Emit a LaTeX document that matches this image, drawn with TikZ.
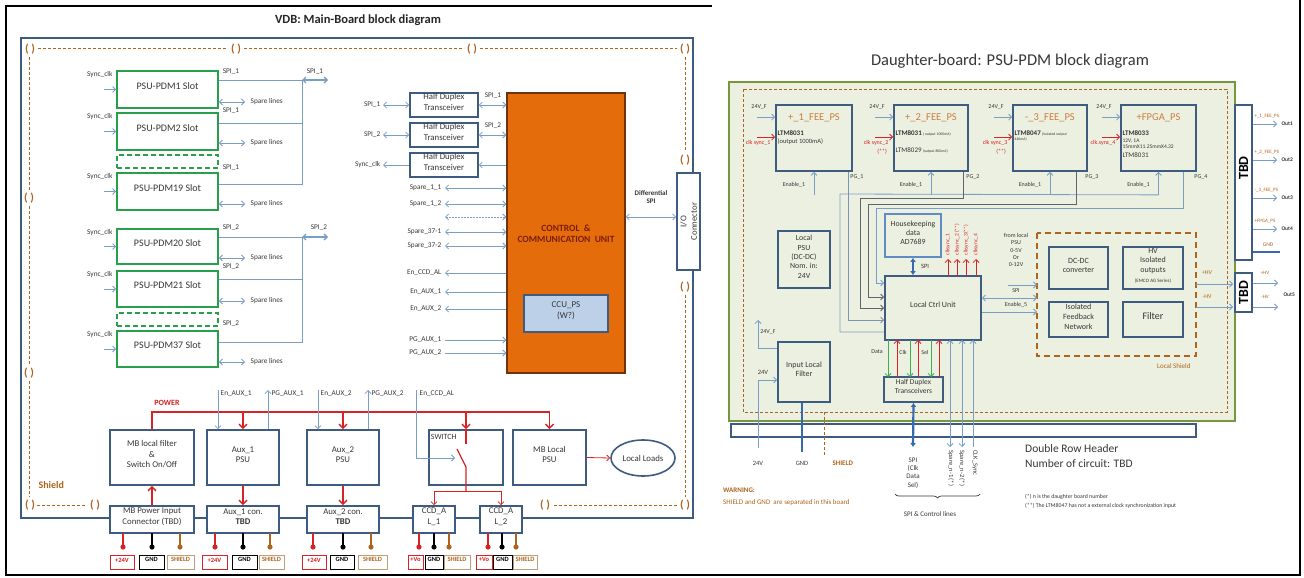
\documentclass[tikz,border=0pt]{standalone}
\usepackage{fontspec}
\setmainfont{Carlito}
\usetikzlibrary{arrows.meta,fit,shapes.geometric,decorations.pathreplacing}
\newcommand\fs[1]{\fontsize{#1}{\the\dimexpr #1pt*6/5\relax}\selectfont}
\definecolor{sb}{RGB}{62,92,128}
\definecolor{lb}{RGB}{120,158,198}
\definecolor{gr}{RGB}{40,160,75}
\definecolor{br}{RGB}{175,100,30}
\definecolor{rd}{RGB}{215,35,35}
\definecolor{orng}{RGB}{228,108,10}
\definecolor{orngd}{RGB}{110,50,15}
\definecolor{ccub}{RGB}{188,208,232}
\definecolor{ccut}{RGB}{125,30,10}
\definecolor{bgb}{RGB}{236,240,224}
\definecolor{olv}{RGB}{120,150,60}
\definecolor{ttl}{RGB}{205,125,60}
\definecolor{txt}{RGB}{55,55,55}
\definecolor{hk}{RGB}{95,140,195}
\definecolor{tk}{RGB}{55,105,175}
\definecolor{gd}{RGB}{60,175,80}
\definecolor{pgl}{RGB}{95,100,110}
\definecolor{tanb}{RGB}{190,160,120}
\tikzset{
 arr/.style={draw=lb, line width=0.8pt, -{Straight Barb[length=3pt,width=6pt]}},
 darr/.style={draw=lb, line width=0.8pt, {Straight Barb[length=3pt,width=6pt]}-{Straight Barb[length=3pt,width=6pt]}},
 la/.style={draw=lb, line width=0.8pt},
 rarr/.style={draw=rd, line width=1.4pt, -{Straight Barb[length=4pt,width=8pt]}},
 rtarr/.style={draw=rd, line width=0.8pt, -{Straight Barb[length=3pt,width=6pt]}},
 garr/.style={draw=gd, line width=0.8pt, -{Straight Barb[length=3pt,width=6pt]}},
 pgarr/.style={draw=pgl, line width=0.8pt, -{Straight Barb[length=3pt,width=6pt]}},
 box/.style={draw=sb, line width=1.6pt, fill=white, inner sep=0pt, align=center, font=\fs{8.8}, text=txt},
 rbox/.style={draw=sb, line width=1.8pt, fill=bgb, inner sep=0pt, align=center, font=\fs{8}, text=txt},
 slot/.style={draw=gr, line width=1.8pt, fill=white, inner sep=0pt, font=\fs{10}, text=txt},
 lbl/.style={font=\fs{7.3}, inner sep=0.5pt, text=txt},
 sl/.style={font=\fs{6}, inner sep=0.3pt, text=txt},
 mk/.style={font=\bfseries\fs{11.5}, text=br, inner sep=0pt},
 shd/.style={draw=br, line width=1pt, dash pattern=on 3pt off 2pt},
 pinl/.style={line width=0.8pt, fill=white, inner sep=0pt, font=\bfseries\fs{6.5}},
}
\begin{document}
\begin{tikzpicture}[x=1pt,y=-1pt]
\useasboundingbox (0,0) rectangle (1304,578);
\fill[white] (0,0) rectangle (1304,578);
\draw[black, line width=2.5pt] (712,6) -- (6,6) -- (6,575) -- (1300,575) -- (1300,0);

%================ LEFT PANEL ================
\node[font=\bfseries\fs{12.5}, text=black!85] (t1) at (358,20) {VDB: Main-Board block diagram};
\draw[sb, line width=1.6pt] (21,38) rectangle (693,518);
\draw[shd] (38,49) -- (228,49) (244,49) -- (464,49) (480,49) -- (677,49);
\draw[shd] (685,57) -- (685,152) (685,295) -- (685,497) (677,505) -- (553,505);
\draw[shd] (29,57) -- (29,190) (29,206) -- (29,365) (29,381) -- (29,497) (37,505) -- (87,505);
\foreach \x/\y [count=\i] in {30/49,236/49,472/49,685/49,685/160,685/287,685/505,545/505,29/198,29/373,30/505,95/505}
  \node[mk] (mk\i) at (\x,\y) {( )};
\node[font=\bfseries\fs{10}, text=br, anchor=west] (shl) at (35,485) {Shield};

\node[slot, fit={(117,71) (218,108)}] (p1) {PSU-PDM1 Slot};
\node[slot, fit={(117,113) (218,150)}] (p2) {PSU-PDM2 Slot};
\node[slot, dash pattern=on 5pt off 3pt, fit={(117,155) (218,168)}] (pd1) {};
\node[slot, fit={(117,173) (218,210)}] (p19) {PSU-PDM19 Slot};
\node[slot, fit={(117,229) (218,264)}] (p20) {PSU-PDM20 Slot};
\node[slot, fit={(117,271) (218,307)}] (p21) {PSU-PDM21 Slot};
\node[slot, dash pattern=on 5pt off 3pt, fit={(117,313) (218,326)}] (pd2) {};
\node[slot, fit={(117,331) (218,367)}] (p37) {PSU-PDM37 Slot};
\foreach \n in {p1,p2,p19,p20,p21,p37} {
  \draw[arr] ([xshift=-12pt]\n.west) -- (\n.west);
  \node[lbl, anchor=east] (sc\n) at ([xshift=-3pt,yshift=-4pt]\n.north west) {Sync\_clk};
}
\draw[la] (p1.east |- 0,80) -- (302,80) -- (302,184) -- (p19.east |- 0,184);
\draw[la] (p2.east |- 0,123) -- (302,123);
\draw[darr, line width=1.3pt] (302,80) -- (328,80);
\draw[la] (p20.east |- 0,237) -- (302,237) -- (302,342) -- (p37.east |- 0,342);
\draw[la] (p21.east |- 0,279) -- (302,279);
\draw[darr, line width=1.3pt] (302,237) -- (328,237);
\node[lbl] (s1a) at (231,72) {SPI\_1};
\node[lbl] (s1b) at (231,111) {SPI\_1};
\node[lbl] (s1c) at (231,168) {SPI\_1};
\node[lbl] (s1d) at (315,72) {SPI\_1};
\node[lbl] (s2a) at (231,228) {SPI\_2};
\node[lbl] (s2b) at (231,267) {SPI\_2};
\node[lbl] (s2c) at (231,324) {SPI\_2};
\node[lbl] (s2d) at (319,228) {SPI\_2};
\foreach \n/\y in {p1/102,p2/143,p19/204,p20/258,p21/301,p37/362} {
  \draw[darr] (\n.east |- 0,\y) -- (245,\y);
  \node[lbl, anchor=west] (sp\n) at (250,\y) {Spare lines};
}

% transceivers and CCU
\node[box, fit={(410,93) (478,117)}] (hd1) {Half Duplex\\Transceiver};
\node[box, fit={(410,123) (478,147)}] (hd2) {Half Duplex\\Transceiver};
\node[box, fit={(410,153) (478,177)}] (hd3) {Half Duplex\\Transceiver};
\node[draw=orngd, fill=orng, line width=1.5pt, inner sep=0pt, fit={(507,93) (625,373)}] (ccu) {};
\node[font=\bfseries\fs{9.5}, text=ccut, align=center] (ccutx) at (566,234) {CONTROL \ \&\\COMMUNICATION \ UNIT};
\node[draw=sb, fill=ccub, line width=1.5pt, inner sep=0pt, align=center, font=\fs{9}, text=txt, fit={(524,295) (608,332)}] (ccups) {CCU\_PS\\(W?)};
\draw[darr] (383,105) -- (hd1.west);
\node[lbl, anchor=east] (l1a) at (381,105) {SPI\_1};
\draw[darr] (383,135) -- (hd2.west);
\node[lbl, anchor=east] (l1b) at (381,135) {SPI\_2};
\draw[arr] (hd3.west) -- (383,165);
\node[lbl, anchor=east] (l1c) at (381,165) {Sync\_clk};
\draw[darr] (hd1.east) -- (ccu.west |- hd1.east);
\node[lbl] (r1a) at (493,96) {SPI\_1};
\draw[darr] (hd2.east) -- (ccu.west |- hd2.east);
\node[lbl] (r1b) at (493,126) {SPI\_2};
\draw[arr] (ccu.west |- hd3.east) -- (hd3.east);
\foreach \t/\y [count=\i] in {Spare\_1\_1/188, Spare\_1\_2/204, Spare\_37-1/232, Spare\_37-2/246} {
  \draw[darr] (445,\y) -- (ccu.west |- 0,\y);
  \node[lbl, anchor=east] (spa\i) at (442,\y) {\t};
}
\draw[darr, dash pattern=on 2pt off 1pt] (445,217) -- (ccu.west |- 0,217);
\foreach \t/\y [count=\i] in {En\_CCD\_AL/273, En\_AUX\_1/292, En\_AUX\_2/309} {
  \draw[arr] (ccu.west |- 0,\y) -- (445,\y);
  \node[lbl, anchor=east] (ena\i) at (442,\y) {\t};
}
\foreach \t/\y [count=\i] in {PG\_AUX\_1/340, PG\_AUX\_2/353} {
  \draw[arr] (445,\y) -- (ccu.west |- 0,\y);
  \node[lbl, anchor=east] (pga\i) at (442,\y) {\t};
}
\node[font=\bfseries\fs{7}, align=center, text=txt] (dspi) at (651,197) {Differential\\SPI};
\node[box, fit={(677,173) (700,270)}] (io) {};
\node[rotate=90, font=\fs{8.8}, align=center, text=txt] (iot) at (io.center) {I/O\\Connector};
\draw[darr] (ccu.east |- 0,217) -- (io.west |- 0,217);

% power section
\node[font=\bfseries\fs{8}, text=rd] (pw) at (167,403) {POWER};
\node[box, fit={(110,430) (194,485)}] (mbf) {MB local filter\\\&\\Switch On/Off};
\node[box, fit={(207,430) (279,485)}] (aux1) {Aux\_1\\PSU};
\node[box, fit={(307,430) (379,485)}] (aux2) {Aux\_2\\PSU};
\node[box, fit={(429,430) (503,485)}] (sw) {};
\node[lbl, font=\fs{8}, anchor=north west] (swt) at ([xshift=2pt,yshift=-4pt]sw.north west) {SWITCH};
\node[box, fit={(513,430) (586,485)}] (mbl) {MB Local\\PSU};
\node[draw=sb, line width=1.6pt, fill=white, ellipse, minimum width=64pt, minimum height=36pt, inner sep=0pt, font=\fs{8.8}, text=txt] (ll) at (643,458) {Local Loads};
\node[box, fit={(110,506) (194,533)}] (mbc) {MB Power Input\\Connector (TBD)};
\node[box, fit={(207,506) (279,533)}] (a1c) {Aux\_1 con.\\\textbf{TBD}};
\node[box, fit={(307,506) (379,533)}] (a2c) {Aux\_2 con.\\\textbf{TBD}};
\node[box, fit={(413,506) (455,533)}] (l1) {CCD\_A\\L\_1};
\node[box, fit={(480,506) (522,533)}] (l2) {CCD\_A\\L\_2};
\draw[rd, line width=1.4pt] (mbf.north) -- (152,412) -- (549.5,412);
\draw[rarr] (243,412) -- (aux1.north);
\draw[rarr] (343,412) -- (aux2.north);
\draw[rarr] (549.5,412) -- (mbl.north);
\draw[rarr] (466,412) -- (sw.north);
\draw[rd, line width=1.2pt] (sw.north) -- (466,444);
\draw[rd, line width=1.2pt] (457,449) -- (466,467) -- (466,491);
\draw[rtarr] (466,491) -| (l1.north);
\draw[rtarr] (466,491) -| (l2.north);
\draw[rarr] (mbc.north) -- (mbf.south);
\draw[rarr] (aux1.south) -- (a1c.north);
\draw[rarr] (aux2.south) -- (a2c.north);
\draw[rtarr] (mbl.east) -- (ll.west);
\draw[arr] (218,390) -- (aux1.north -| 218,0);
\node[lbl, anchor=west] (t_ea1) at (220,394) {En\_AUX\_1};
\draw[arr] (aux1.north -| 268,0) -- (268,390);
\node[lbl, anchor=west] (t_pa1) at (271,394) {PG\_AUX\_1};
\draw[arr] (318,390) -- (aux2.north -| 318,0);
\node[lbl, anchor=west] (t_ea2) at (320,394) {En\_AUX\_2};
\draw[arr] (aux2.north -| 368,0) -- (368,390);
\node[lbl, anchor=west] (t_pa2) at (371,394) {PG\_AUX\_2};
\draw[arr] (416,390) -- (416,458) -- (455,458);
\node[lbl, anchor=west] (t_ecc) at (419,394) {En\_CCD\_AL};
\foreach \x/\c in {123/rd,152/black,180/br,215/rd,243/black,270/br,313/rd,343/black,371/br,419/rd,434/black,449/br,488/rd,502/black,516/br} {
  \draw[\c, line width=1.3pt] (\x,533) -- (\x,547);
  \fill[\c] (\x,547) circle (2.6);
}
\foreach \a/\b/\t/\c/\d [count=\i] in {110/134/+24V/rd/rd,139/164/GND/black/black,167/194/SHIELD/br/tanb,
  202/227/+24V/rd/rd,232/257/GND/black/black,259/284/SHIELD/br/tanb,
  302/326/+24V/rd/rd,330/354/GND/black/black,358/387/SHIELD/br/tanb,
  408/423/+Vo/rd/rd,425/443/GND/black/black,444/470/SHIELD/br/tanb,
  476/492/+Vo/rd/rd,493/512/GND/black/black,513/537/SHIELD/br/tanb}
  \node[pinl, draw=\d, text=\c, fit={(\a,555) (\b,569)}] (pl\i) {\t};

%================ RIGHT PANEL ================
\node[font=\fs{16.5}, text=txt] (t2) at (1010,61) {Daughter-board: PSU-PDM block diagram};
\draw[olv, fill=bgb, line width=1.8pt] (729,82) rectangle (1235,421);
\node[draw=sb, fill=white, line width=1.5pt, inner sep=0pt, fit={(731,424) (1196,437)}] (hdr) {};
\draw[shd] (743,89) rectangle (1227,412);
\draw[shd] (824,412) -- (824,455);
\node[font=\bfseries\fs{7}, text=br, anchor=west] (shtx) at (829,463) {SHIELD};

\node[rbox, fit={(776,105) (852,171)}] (f1) {};
\node[rbox, fit={(894,105) (968,171)}] (f2) {};
\node[rbox, fit={(1013,105) (1087,171)}] (f3) {};
\node[rbox, fit={(1121,105) (1196,171)}] (f4) {};
\node[font=\fs{10.5}, text=ttl] (f1t) at ([yshift=-14pt]f1.north) {+\_1\_FEE\_PS};
\node[font=\fs{10.5}, text=ttl] (f2t) at ([yshift=-14pt]f2.north) {+\_2\_FEE\_PS};
\node[font=\fs{10.5}, text=ttl] (f3t) at ([yshift=-14pt]f3.north) {-\_3\_FEE\_PS};
\node[font=\fs{10.5}, text=ttl] (f4t) at ([yshift=-14pt]f4.north) {+FPGA\_PS};
\node[sl, anchor=west, font=\bfseries\fs{7}] (f1a) at ([xshift=2pt,yshift=-29pt]f1.north west) {LTM8031};
\node[sl, anchor=west, font=\fs{6.5}] (f1b) at ([xshift=2pt,yshift=-38pt]f1.north west) {(output 1000mA)};
\node[sl, anchor=west] (f2a) at ([xshift=2pt,yshift=-29pt]f2.north west) {{\bfseries\fs{7}LTM8031} {\fs{3.8}( output 1000mA)}};
\node[sl, anchor=west] (f2b) at ([xshift=2pt,yshift=-46pt]f2.north west) {{\fs{7}LTM8029} {\fs{3.8}(output 800mA)}};
\node[sl, anchor=west] (f3a) at ([xshift=2pt,yshift=-29pt]f3.north west) {{\bfseries\fs{7}LTM8047} {\fs{3.8}(isolated output}};
\node[sl, anchor=west, font=\fs{3.8}] (f3b) at ([xshift=2pt,yshift=-35pt]f3.north west) {440mA)};
\node[sl, anchor=west, font=\bfseries\fs{7}] (f4a) at ([xshift=2pt,yshift=-29pt]f4.north west) {LTM8033};
\node[sl, anchor=west, font=\fs{5.5}] (f4b) at ([xshift=2pt,yshift=-37pt]f4.north west) {12V, 1A};
\node[sl, anchor=west, font=\fs{5.5}] (f4c) at ([xshift=2pt,yshift=-43pt]f4.north west) {15mmX11.25mmX4.32};
\node[sl, anchor=west, font=\fs{7}] (f4d) at ([xshift=2pt,yshift=-51pt]f4.north west) {LTM8031};
\foreach \n/\i/\s/\c in {f1/1//clk sync\_1, f2/2/(**)/clk sync\_2, f3/3/(**)/clk sync\_3, f4/4//clk.sync\_4} {
  \draw[arr] ([xshift=-18pt,yshift=-13pt]\n.north west) -- ([yshift=-13pt]\n.north west);
  \draw[rtarr] ([xshift=-18pt,yshift=-33pt]\n.north west) -- ([yshift=-33pt]\n.north west);
  \node[sl] (v\n) at ([xshift=-16pt,yshift=-3pt]\n.north west) {24V\_F};
  \node[sl, text=rd] (c\n) at ([xshift=-17pt,yshift=-39pt]\n.north west) {\c};
  \node[sl, text=rd] (s\n) at ([xshift=-11pt,yshift=-48pt]\n.north west) {\s};
  \draw[arr] ([yshift=-23pt]\n.south) -- (\n.south);
  \node[sl] (e\n) at ([xshift=-20pt,yshift=-13pt]\n.south) {Enable\_1};
  \node[sl, anchor=west] (g\n) at ([xshift=-3pt,yshift=-5pt]\n.south east) {PG\_\i};
}

\node[rbox, font=\fs{7.8}, fit={(778,231) (830,288)}] (lpsu) {Local\\PSU\\(DC-DC)\\Nom. in:\\24V};
\node[rbox, fit={(778,342) (830,402)}] (ilf) {Input Local\\Filter};
\node[rbox, draw=hk, font=\fs{7.8}, fit={(885,214) (941,257)}] (hkd) {Housekeeping\\data\\AD7689};
\node[rbox, fit={(885,276) (981,340)}] (lcu) {Local Ctrl Unit};
\node[rbox, font=\fs{7.5}, fit={(884,377) (943,402)}] (hdt) {Half Duplex\\Transceivers};

% Enable bus (from Local Ctrl Unit) and PG lines into Local Ctrl Unit
\draw[la] (lcu.west |- 0,332) -| (840,194) -- ([yshift=-23pt]f4.south);
\draw[pgarr, draw=lb!70!gray] ([xshift=-5pt]f1.south east) |- (lcu.west |- 0,320);
\draw[pgarr] ([xshift=-6pt]f2.south east) |- (860,198) |- (lcu.west |- 0,308);
\draw[pgarr] ([xshift=-12pt]f3.south east) |- (868,204) |- (lcu.west |- 0,297);
\draw[arr] ([xshift=-14pt]f4.south east) |- (876,208) |- (lcu.west |- 0,283);

\draw[tk, line width=2.2pt, {Latex[length=4pt,width=6pt]}-{Latex[length=4pt,width=6pt]}] (hkd.south) -- (lcu.north -| hkd.south);
\node[sl, font=\fs{6.5}] (hks) at (925,266) {SPI};
\foreach \x/\t [count=\i] in {948/clksync\_1, 957/clksync\_2 (**), 966/clksync\_3(**), 976/clksync\_4} {
  \draw[rtarr] (\x,276) -- (\x,259);
  \node[rotate=90, anchor=west, font=\fs{5.5}, text=rd, inner sep=0.5pt] (ck\i) at (\x,256) {\t};
}
\foreach \x in {888,910,931} \draw[garr] (\x,340) -- (\x,377);
\foreach \x in {897,918,939} \draw[rtarr] (\x,377) -- (\x,340);
\node[sl] (dt) at (877,352) {Data};
\node[sl] (ckl) at (903,352) {Clk};
\node[sl] (sel) at (925,352) {Sel};
\draw[darr] (950,447) -- (950,340);
\draw[darr] (962,447) -- (962,340);
\draw[arr] (973,447) -- (973,340);
\node[rotate=-90, anchor=west, sl, font=\fs{6.5}] (spn1) at (951,450) {Spare\_n-1 (*)};
\node[rotate=-90, anchor=west, sl, font=\fs{6.5}] (spn2) at (962,450) {Spare\_n-2 (*)};
\node[rotate=-90, anchor=west, sl, font=\fs{6.5}] (clks) at (975,450) {CLK\_Sync};
\draw[tk, line width=2.2pt, {Latex[length=4pt,width=6pt]}-{Latex[length=4pt,width=6pt]}] (hdt.south) -- (913,447);
\node[sl, font=\fs{7}, align=center] (spit) at (913,473) {SPI\\(Clk\\Data\\Sel)};
\draw[txt, line width=0.7pt, decorate, decoration={brace, amplitude=4pt}] (980,494) -- (895,494);
\node[sl, font=\fs{7}] (spcl) at (930,514) {SPI \& Control lines};

\draw[arr] (758,448) |- (ilf.west |- 0,380);
\node[sl, font=\fs{6.5}] (v24a) at (763,372) {24V};
\node[sl, font=\fs{6.5}] (v24b) at (758,463) {24V};
\draw[arr] (ilf.west |- 0,348) -| (758,320);
\node[sl] (v24f) at (768,332) {24V\_F};
\draw[tk, line width=1.8pt] (ilf.south -| 802,0) -- (802,452);
\node[sl, font=\fs{6.5}] (gndt) at (802,463) {GND};
\node[font=\bfseries\fs{7}, text=br, anchor=west, inner sep=0pt] (warn) at (723,490) {WARNING:};
\node[font=\fs{7}, text=br, anchor=west, inner sep=0pt] (warn2) at (723,503) {SHIELD and GND \ are separated in this board};

% local shield area
\draw[br, line width=2pt, dash pattern=on 6pt off 4pt] (1037,233) rectangle (1196,356);
\node[font=\fs{7}, text=br, anchor=east] (lsh) at (1194,366) {Local Shield};
\node[rbox, fit={(1049,247) (1108,289)}] (dcdc) {DC-DC\\converter};
\node[rbox, fit={(1123,247) (1183,289)}] (hvo) {HV\\Isolated\\outputs\\{\fs{5}(EMCO AG Series)}};
\node[rbox, fit={(1049,302) (1108,337)}] (ifn) {Isolated\\Feedback\\Network};
\node[rbox, font=\fs{10}, fit={(1123,302) (1183,337)}] (flt) {Filter};
\node[sl, align=center] (flp) at (1016,250) {from local\\PSU\\0-5V\\Or\\0-12V};
\draw[arr] (1008,285) -- (1037,285);
\draw[darr] (lcu.east |- 0,298) -- (1037,298);
\node[sl] (lspi) at (1016,291) {SPI};
\draw[arr] (lcu.east |- 0,312) -- (1037,312);
\node[sl] (len5) at (1016,305) {Enable\_5};
\draw[arr] (1196,284) -- (1233,284);
\draw[arr] (1196,307) -- (1233,307);
\node[sl, text=br] (hvp) at (1207,273) {+HV};
\node[sl, text=br] (hvm) at (1207,297) {-HV};

% TBD connectors
\node[draw=sb, fill=white, line width=1.8pt, inner sep=0pt, fit={(1235,105) (1252,260)}] (tbd1) {};
\node[rotate=90, font=\bfseries\fs{14}] (tbd1t) at (1243.5,168) {TBD};
\node[draw=sb, fill=white, line width=1.8pt, inner sep=0pt, fit={(1235,273) (1252,312)}] (tbd2) {};
\node[rotate=90, font=\bfseries\fs{14}] (tbd2t) at (tbd2.center) {TBD};
\foreach \y/\t/\o [count=\i] in {124/+\_1\_FEE\_PS/Out1, 160/+\_2\_FEE\_PS/Out2, 198/-\_3\_FEE\_PS/Out3, 229/+FPGA\_PS/Out4} {
  \draw[arr] (tbd1.east |- 0,\y) -- (1277,\y);
  \node[sl, font=\fs{5}, text=br, anchor=west] (ol\i) at (1254,\y-8) {\t};
  \node[sl, font=\bfseries\fs{5.5}, anchor=west] (on\i) at (1281,\y) {\o};
}
\node[sl, font=\fs{5.5}, text=br] (gndr) at (1268,245) {GND};
\draw[tk, line width=1.5pt] (tbd1.east |- 0,252) -- (1280,252);
\draw[arr] (tbd2.east |- 0,283) -- (1278,283);
\draw[arr] (tbd2.east |- 0,307) -- (1278,307);
\node[sl, font=\fs{5}, text=br] (hvp2) at (1265,273) {+HV};
\node[sl, font=\fs{5}, text=br] (hvm2) at (1265,297) {-HV};
\node[sl, font=\bfseries\fs{5.5}, anchor=west] (out5) at (1283,295) {Out5};

\node[font=\fs{11.5}, text=txt, anchor=west, inner sep=0pt] (drh) at (1025,449) {Double Row Header};
\node[font=\fs{11.5}, text=txt, anchor=west, inner sep=0pt] (drh2) at (1025,464) {Number of circuit: TBD};
\node[font=\fs{5.8}, text=txt, anchor=west, inner sep=0pt] (fn1) at (1025,497) {(*) n is the daughter board number};
\node[font=\fs{5.8}, text=txt, anchor=west, inner sep=0pt] (fn2) at (1025,506) {(**) The LTM8047 has not a external clock synchronization input};
\end{tikzpicture}
\end{document}
